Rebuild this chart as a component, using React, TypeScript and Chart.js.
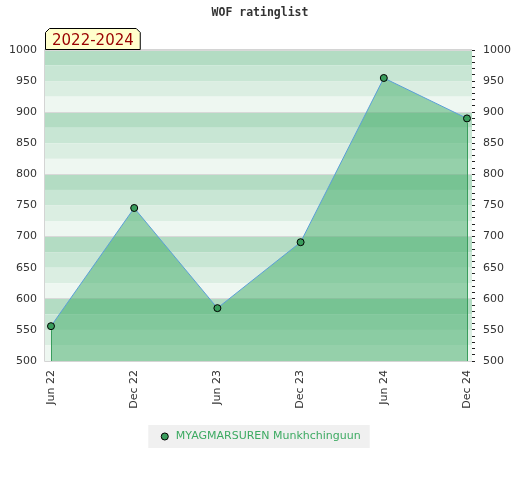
import React, { useEffect, useRef } from "react";
import { Chart, registerables } from "chart.js";

Chart.register(...registerables);

const TITLE = "WOF ratinglist";
const PERIOD = "2022-2024";
const PLAYER = "MYAGMARSUREN Munkhchinguun";
const xLabels = ["Jun 22", "Dec 22", "Jun 23", "Dec 23", "Jun 24", "Dec 24"];
const ratings = [556, 746, 585, 691, 955, 890];
const yMin = 500;
const yMax = 1000;
const bandColors = ["#b3dcc3", "#c8e6d4", "#dbeee2", "#eef7f1"];

const FONT = "'DejaVu Sans', Verdana, sans-serif";

const decorPlugin = {
  id: "decor",
  beforeDraw(chart: any) {
    const { ctx, chartArea } = chart;
    const y = chart.scales.y;
    ctx.save();
    for (let v = yMax; v > yMin; v -= 25) {
      const idx = ((yMax - v) / 25) % 4;
      const top = y.getPixelForValue(v);
      const bot = y.getPixelForValue(v - 25);
      ctx.fillStyle = bandColors[idx];
      ctx.fillRect(chartArea.left, top, chartArea.right - chartArea.left, bot - top);
    }
    const lg = chart.legend;
    if (lg && lg.legendHitBoxes && lg.legendHitBoxes.length) {
      const hb = lg.legendHitBoxes[0];
      ctx.fillStyle = "#f0f0f0";
      ctx.fillRect(hb.left - 11, hb.top - 6, hb.width + 20, hb.height + 12);
    }
    ctx.restore();
  },
  afterDraw(chart: any) {
    const { ctx, chartArea } = chart;
    ctx.save();
    ctx.strokeStyle = "#d4d4d4";
    ctx.lineWidth = 1;
    ctx.beginPath();
    ctx.moveTo(chartArea.right, chartArea.top - 0.5);
    ctx.lineTo(chartArea.left - 0.5, chartArea.top - 0.5);
    ctx.lineTo(chartArea.left - 0.5, chartArea.bottom + 0.5);
    ctx.lineTo(chartArea.right, chartArea.bottom + 0.5);
    ctx.stroke();
    ctx.font = `15px ${FONT}`;
    const tw = ctx.measureText(PERIOD).width;
    const l = chartArea.left + 0.5;
    const r = l + tw + 13;
    const b = chartArea.top - 0.5;
    const t = b - 21;
    const c = 4;
    ctx.beginPath();
    ctx.moveTo(l, b);
    ctx.lineTo(l, t + c);
    ctx.lineTo(l + c, t);
    ctx.lineTo(r - c, t);
    ctx.lineTo(r, t + c);
    ctx.lineTo(r, b);
    ctx.closePath();
    ctx.fillStyle = "#ffffcc";
    ctx.fill();
    ctx.strokeStyle = "#000";
    ctx.stroke();
    ctx.fillStyle = "#990000";
    ctx.textBaseline = "alphabetic";
    ctx.fillText(PERIOD, l + 6.5, b - 5);
    ctx.restore();
  },
  afterDatasetsDraw(chart: any) {
    const { ctx, chartArea } = chart;
    const meta = chart.getDatasetMeta(0);
    const pts = meta.data;
    if (!pts.length) return;
    ctx.save();
    ctx.strokeStyle = "#3a9d5d";
    ctx.lineWidth = 1;
    [pts[0], pts[pts.length - 1]].forEach((p: any) => {
      const x = Math.round(p.x) + 0.5;
      ctx.beginPath();
      ctx.moveTo(x, p.y + 4);
      ctx.lineTo(x, chartArea.bottom);
      ctx.stroke();
    });
    ctx.restore();
  },
};

export default function App() {
  const ref = useRef<HTMLCanvasElement>(null);
  useEffect(() => {
    if (!ref.current) return;
    const chart = new Chart(ref.current, {
      type: "line",
      data: {
        datasets: [
          {
            label: PLAYER,
            data: ratings.map((v, i) => ({ x: i, y: v })),
            borderColor: "#5b9fd8",
            borderWidth: 1,
            backgroundColor: "rgba(60,170,100,0.5)",
            fill: "start",
            tension: 0,
            pointRadius: 3.5,
            pointBackgroundColor: "#3a9d5d",
            pointBorderColor: "#000",
            pointBorderWidth: 1,
          },
        ],
      },
      options: {
        responsive: false,
        animation: false,
        layout: { padding: { top: 0, bottom: 28, left: 0, right: 0 } },
        plugins: {
          title: {
            display: true,
            text: TITLE,
            color: "#333",
            font: { family: "'DejaVu Sans Mono', monospace", size: 11.5, weight: "bold" },
            padding: { top: 6, bottom: 30.2 },
          },
          legend: {
            display: true,
            position: "bottom",
            labels: {
              usePointStyle: true,
              pointStyle: "circle",
              boxHeight: 5,
              color: "#3daa62",
              font: { family: FONT, size: 11 },
              padding: 14,
            },
          },
          tooltip: { enabled: false },
        },
        scales: {
          x: {
            type: "linear",
            min: -0.072,
            max: 5.06,
            afterBuildTicks: (s: any) => {
              s.ticks = xLabels.map((_, i) => ({ value: i }));
            },
            afterFit: (s: any) => {
              s.height = 56;
            },
            grid: { display: false },
            border: { display: false },
            ticks: {
              autoSkip: false,
              minRotation: 90,
              maxRotation: 90,
              padding: 1,
              color: "#333",
              font: { family: FONT, size: 11 },
              callback: (v: any) => xLabels[v] ?? "",
            },
          },
          y: {
            position: "left",
            min: yMin,
            max: yMax,
            afterFit: (s: any) => {
              s.width = 45;
            },
            grid: {
              drawTicks: false,
              color: (c: any) => (c.tick && c.tick.value % 100 === 0 ? "#d8d8d8" : "rgba(0,0,0,0)"),
            },
            border: { display: false },
            ticks: {
              stepSize: 50,
              padding: 8,
              color: "#333",
              font: { family: FONT, size: 11 },
              callback: (v: any) => String(v),
            },
          },
          y2: {
            position: "right",
            min: yMin,
            max: yMax,
            afterFit: (s: any) => {
              s.width = 48;
            },
            grid: {
              drawOnChartArea: false,
              drawTicks: true,
              tickLength: 3,
              color: "#222",
            },
            border: { display: false },
            ticks: {
              stepSize: 10,
              autoSkip: false,
              padding: 8,
              color: "#333",
              font: { family: FONT, size: 11 },
              callback: (v: any) => (v % 50 === 0 ? String(v) : ""),
            },
          },
        },
      },
      plugins: [decorPlugin],
    });
    return () => chart.destroy();
  }, []);
  return (
    <div style={{ position: "fixed", left: 0, top: 0, width: 520, height: 480, background: "#fff" }}>
      <canvas ref={ref} width={520} height={480} />
    </div>
  );
}
